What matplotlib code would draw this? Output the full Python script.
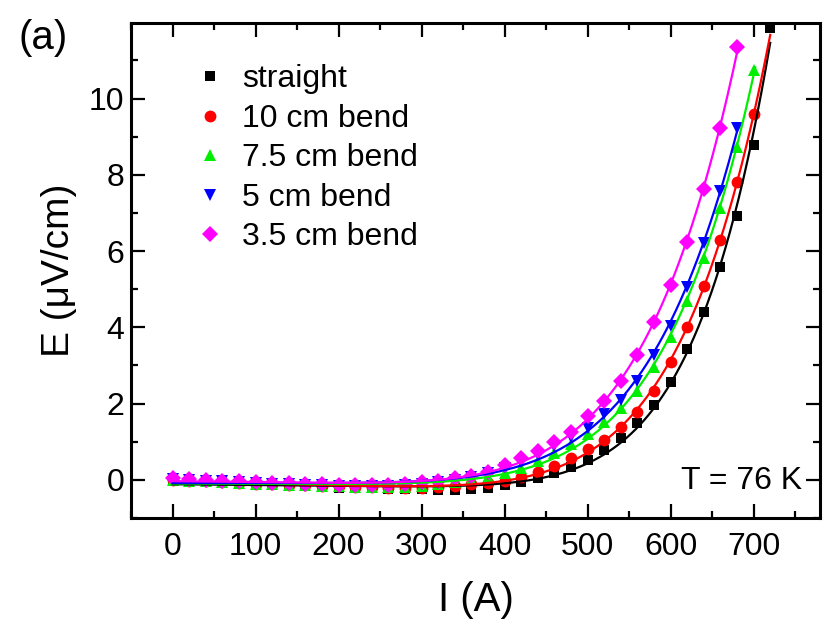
import numpy as np
import matplotlib
matplotlib.use("Agg")
import matplotlib.pyplot as plt
from matplotlib.ticker import MultipleLocator, FixedLocator

plt.rcParams['font.family'] = ['Liberation Sans', 'DejaVu Sans']

# --- data: current I (A) and electric field E (uV/cm) ---
I_straight = np.arange(0, 721, 20)
E_straight = [-0.02, -0.04, -0.06, -0.08, -0.10, -0.12, -0.14, -0.15, -0.17, -0.18,
              -0.20, -0.21, -0.22, -0.23, -0.24, -0.25, -0.26, -0.26, -0.24, -0.20,
              -0.13, -0.05, 0.05, 0.18, 0.34, 0.52, 0.79, 1.10, 1.49, 1.96,
              2.57, 3.43, 4.40, 5.57, 6.91, 8.77, 11.86]

I_10cm = np.arange(0, 701, 20)
E_10cm = [0.00, -0.02, -0.04, -0.06, -0.08, -0.10, -0.11, -0.13, -0.14, -0.15,
          -0.17, -0.18, -0.19, -0.20, -0.21, -0.20, -0.18, -0.15, -0.12, -0.08,
          -0.03, 0.08, 0.21, 0.37, 0.58, 0.81, 1.05, 1.39, 1.78, 2.33,
          3.10, 4.00, 5.08, 6.30, 7.80, 9.60]

I_75cm = np.arange(0, 701, 20)
E_75cm = [0.00, -0.02, -0.04, -0.06, -0.08, -0.10, -0.11, -0.13, -0.14, -0.15,
          -0.17, -0.18, -0.19, -0.19, -0.18, -0.15, -0.11, -0.06, 0.00, 0.08,
          0.18, 0.32, 0.50, 0.70, 0.95, 1.20, 1.52, 1.88, 2.33, 2.96,
          3.74, 4.69, 5.83, 7.12, 8.72, 10.76]

I_5cm = np.arange(0, 681, 20)
E_5cm = [0.02, 0.00, -0.02, -0.04, -0.06, -0.08, -0.10, -0.11, -0.13, -0.14,
         -0.15, -0.16, -0.17, -0.16, -0.14, -0.10, -0.06, 0.00, 0.08, 0.18,
         0.32, 0.48, 0.66, 0.88, 1.13, 1.36, 1.73, 2.09, 2.59, 3.27,
         4.03, 5.05, 6.22, 7.57, 9.24]

I_35cm = np.arange(0, 681, 20)
E_35cm = [0.04, 0.02, 0.00, -0.02, -0.04, -0.06, -0.08, -0.09, -0.11, -0.12,
          -0.13, -0.14, -0.14, -0.13, -0.10, -0.05, -0.03, 0.05, 0.10, 0.21,
          0.39, 0.57, 0.75, 0.99, 1.26, 1.68, 2.07, 2.59, 3.27, 4.14,
          5.10, 6.23, 7.62, 9.24, 11.34]

labels = ['straight', '10 cm bend', '7.5 cm bend', '5 cm bend', '3.5 cm bend']
series_I = [I_straight, I_10cm, I_75cm, I_5cm, I_35cm]
series_E = [E_straight, E_10cm, E_75cm, E_5cm, E_35cm]

colors = ['#000000', '#ff0000', '#00ee00', '#0000ff', '#ff00ff']
markers = ['s', 'o', '^', 'v', 'D']
msizes = [7.5, 8.5, 9.0, 9.0, 8.0]
fit_end = [720, 720, 702, 682, 682]


def power_fit(I, E):
    # E = a + b*I + c*(I/700)^n, best n from a simple scan
    I = np.asarray(I, float)
    E = np.asarray(E, float)
    best = None
    for n in np.arange(3, 40, 0.1):
        X = np.column_stack([np.ones_like(I), I, (I / 700.0) ** n])
        coef = np.linalg.lstsq(X, E, rcond=None)[0]
        err = np.sum((X @ coef - E) ** 2)
        if best is None or err < best[0]:
            best = (err, n, coef)
    return best[1], best[2]


fig = plt.figure(figsize=(8.33, 6.27), dpi=100)
ax = fig.add_axes([0.1573, 0.1738, 0.8271, 0.7895])

for I, E, lab, col, mk, ms, xe in zip(series_I, series_E, labels, colors,
                                       markers, msizes, fit_end):
    ax.plot(I, E, linestyle='none', marker=mk, markersize=ms, color=col,
            markeredgewidth=0, label=lab, zorder=2)
    n, c = power_fit(I, E)
    xf = np.linspace(0, xe, 400)
    yf = c[0] + c[1] * xf + c[2] * (xf / 700.0) ** n
    ax.plot(xf, yf, color=col, linewidth=1.6, zorder=3)

ax.set_xlim(-50, 780)
ax.set_ylim(-1, 11.98)
ax.xaxis.set_major_locator(MultipleLocator(100))
ax.xaxis.set_minor_locator(MultipleLocator(50))
ax.yaxis.set_major_locator(FixedLocator([0, 2, 4, 6, 8, 10]))
ax.yaxis.set_minor_locator(FixedLocator([-1, 1, 3, 5, 7, 9, 11]))

ax.tick_params(which='both', direction='in', top=True, right=True, width=1.6)
ax.tick_params(which='major', length=10, labelsize=23)
ax.tick_params(which='minor', length=5)
ax.tick_params(axis='x', pad=10)
ax.tick_params(axis='y', pad=5)
for sp in ax.spines.values():
    sp.set_linewidth(2.2)

ax.set_xlabel('I (A)', fontsize=29, labelpad=14)
ax.set_ylabel('E (\u03bcV/cm)', fontsize=28, labelpad=8)

leg = ax.legend(loc='upper left', frameon=False, fontsize=23,
                bbox_to_anchor=(0.05, 0.975), handletextpad=0.5,
                labelspacing=0.3, handlelength=1.0, markerscale=1.0)

ax.text(0.974, 0.059, 'T = 76 K', transform=ax.transAxes, fontsize=23,
        ha='right', va='baseline')
fig.text(0.022, 0.97, '(a)', fontsize=29, ha='left', va='top')

fig.savefig('out.png', dpi=100)
